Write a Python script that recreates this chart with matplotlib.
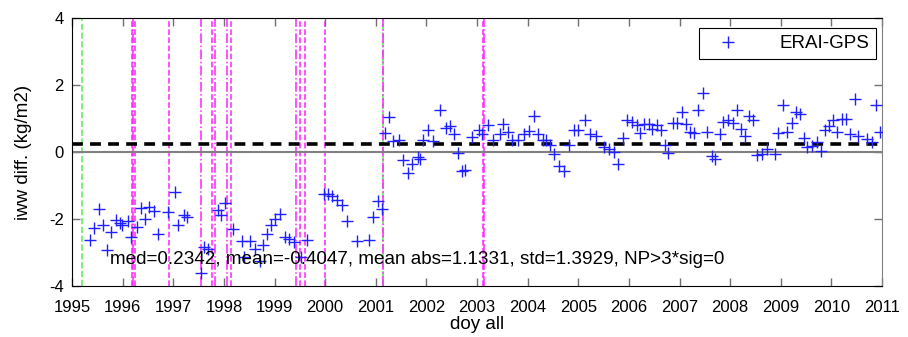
import matplotlib
matplotlib.use("Agg")
import matplotlib.pyplot as plt
from matplotlib import font_manager

# ---------------- data ----------------
years = [
    1995.35, 1995.43, 1995.53, 1995.61, 1995.69, 1995.77, 1995.86, 1995.94, 1995.99, 1996.10,
    1996.17, 1996.29, 1996.36, 1996.44, 1996.53, 1996.62, 1996.70, 1996.90, 1997.03, 1997.10,
    1997.21, 1997.27, 1997.54, 1997.61, 1997.69, 1997.88, 1997.95, 1998.03, 1998.18, 1998.35,
    1998.39, 1998.52, 1998.62, 1998.72, 1998.77, 1998.86, 1998.93, 1999.01, 1999.11, 1999.21,
    1999.29, 1999.39, 1999.53, 1999.64, 1999.97, 2000.05, 2000.14, 2000.24, 2000.33, 2000.44,
    2000.63, 2000.86, 2000.95, 2001.04, 2001.12, 2001.19, 2001.27, 2001.35, 2001.45, 2001.54,
    2001.63, 2001.72, 2001.83, 2001.88, 2001.94, 2002.03, 2002.14, 2002.27, 2002.39, 2002.46,
    2002.54, 2002.62, 2002.70, 2002.77, 2002.90, 2003.03, 2003.10, 2003.21, 2003.31, 2003.45,
    2003.52, 2003.62, 2003.69, 2003.80, 2003.92, 2004.02, 2004.12, 2004.20, 2004.30, 2004.37,
    2004.45, 2004.53, 2004.61, 2004.71, 2004.81, 2004.91, 2005.00, 2005.14, 2005.24, 2005.35,
    2005.50, 2005.60, 2005.70, 2005.79, 2005.88, 2005.96, 2006.06, 2006.16, 2006.21, 2006.29,
    2006.39, 2006.45, 2006.55, 2006.63, 2006.72, 2006.78, 2006.87, 2006.96, 2007.05, 2007.13,
    2007.21, 2007.29, 2007.37, 2007.46, 2007.54, 2007.64, 2007.70, 2007.80, 2007.85, 2007.95,
    2008.05, 2008.13, 2008.22, 2008.30, 2008.38, 2008.46, 2008.54, 2008.62, 2008.72, 2008.89,
    2008.95, 2009.04, 2009.13, 2009.22, 2009.30, 2009.38, 2009.45, 2009.52, 2009.61, 2009.71,
    2009.79, 2009.87, 2009.96, 2010.04, 2010.12, 2010.20, 2010.29, 2010.37, 2010.47, 2010.53,
    2010.70, 2010.80, 2010.88, 2010.96,
]
iww_diff = [
    -2.62, -2.28, -1.70, -2.19, -2.92, -2.40, -2.02, -2.12, -2.19, -2.07,
    -2.53, -2.23, -1.66, -1.99, -1.65, -1.76, -2.45, -1.80, -1.20, -2.19,
    -1.88, -1.94, -3.63, -2.84, -2.89, -1.72, -1.87, -1.53, -2.30, -2.67,
    -3.14, -2.67, -2.89, -3.25, -2.79, -2.44, -2.19, -1.99, -1.84, -2.53,
    -2.60, -2.70, -3.15, -2.62, -1.27, -1.27, -1.30, -1.42, -1.58, -2.05,
    -2.66, -2.64, -1.93, -1.47, -1.70, 0.57, 1.05, 0.33, 0.35, -0.25,
    -0.63, -0.37, -0.15, -0.20, 0.35, 0.67, 0.33, 1.27, 0.73, 0.77,
    0.55, -0.03, -0.58, -0.55, 0.45, 0.67, 0.55, 0.82, 0.35, 0.55,
    0.85, 0.60, 0.37, 0.37, 0.53, 0.63, 1.07, 0.55, 0.37, 0.37,
    0.20, -0.05, -0.43, -0.57, 0.20, 0.65, 0.65, 0.95, 0.55, 0.47,
    0.15, 0.10, 0.00, -0.35, 0.43, 0.97, 0.90, 0.80, 0.57, 0.85,
    0.85, 0.70, 0.80, 0.65, 0.20, -0.03, 0.87, 0.87, 1.20, 0.83,
    0.60, 0.57, 1.27, 1.78, 0.60, -0.13, -0.22, 0.55, 0.90, 0.95,
    0.88, 1.25, 0.70, 0.47, 1.07, 0.97, -0.10, -0.07, 0.10, -0.07,
    0.58, 1.40, 0.60, 0.88, 1.20, 1.13, 0.43, 0.15, 0.17, 0.30,
    0.03, 0.65, 0.77, 0.97, 0.60, 1.00, 1.00, 0.55, 1.60, 0.47,
    0.40, 0.30, 1.40, 0.60,
]
median_value = 0.2342
stats_text = "med=0.2342, mean=-0.4047, mean abs=1.1331, std=1.3929, NP>3*sig=0"
series_label = "ERAI-GPS"

green_events = [1995.19, 2001.145]
magenta_events = [1996.19, 1996.21, 1996.235, 1996.91, 1997.55, 1997.77, 1997.83,
                  1998.065, 1998.14, 1999.43, 1999.51, 1999.61, 1999.99, 2001.14,
                  2003.12, 2003.135]
magenta_styles = ['--', '-.', '--', '--', '-.', '--', '-.',
                  '-.', '--', '-.', '--', '--', '--', '-.',
                  '--', '-.']

x_ticks = list(range(1995, 2012))
x_tick_labels = [str(v) for v in x_ticks]
y_ticks = [-4, -2, 0, 2, 4]
y_tick_labels = ['-4', '-2', '0', '2', '4']

# ---------------- plot ----------------
names = {f.name for f in font_manager.fontManager.ttflist}
base_font = 'Liberation Sans' if 'Liberation Sans' in names else 'DejaVu Sans'
plt.rcParams['font.family'] = [base_font, 'DejaVu Sans']

fig = plt.figure(figsize=(9.08, 3.37), dpi=100)
ax = fig.add_axes([0.0793, 0.152, 0.8921, 0.7937])

for x in green_events:
    ax.axvline(x, color='#66ee66', ls='--', lw=1.2, zorder=1)
for x, s in zip(magenta_events, magenta_styles):
    ax.axvline(x, color='#ff22ff', ls=s, lw=1.1, zorder=1)

ax.axhline(0, color='#808080', lw=1.5, zorder=2)
ax.axhline(median_value, color='black', ls=(0, (3, 2)), lw=2.6, zorder=3)

ax.plot(years, iww_diff, ls='none', marker='+', ms=9, mew=1.0,
        color='#1f1fff', label=series_label, zorder=4)

ax.text(1995.75, -3.2, stats_text, fontsize=13.6, va='center', ha='left', zorder=5)

ax.set_xlim(1995, 2011)
ax.set_ylim(-4, 4)
ax.set_xticks(x_ticks)
ax.set_xticklabels(x_tick_labels)
ax.set_yticks(y_ticks)
ax.set_yticklabels(y_tick_labels)
ax.tick_params(direction='in', length=6, width=1, color='#707070',
               top=True, right=True, labelsize=12)
ax.tick_params(axis='x', pad=10)
ax.tick_params(axis='y', pad=6)
for side in ['left', 'bottom', 'top']:
    ax.spines[side].set_color('black')
ax.spines['right'].set_color('#808080')

ax.set_xlabel('doy all', fontsize=13.5, labelpad=1)
ax.set_ylabel('iww diff. (kg/m2)', fontsize=13.5, labelpad=12)

leg = ax.legend(loc='upper right', bbox_to_anchor=(0.992, 0.962), borderaxespad=0,
                fontsize=13.5, frameon=True, fancybox=False, edgecolor='black',
                framealpha=1, handlelength=2.4, handletextpad=1.5, borderpad=0.35)
leg.get_frame().set_linewidth(0.8)

fig.savefig('out.png', dpi=100)
